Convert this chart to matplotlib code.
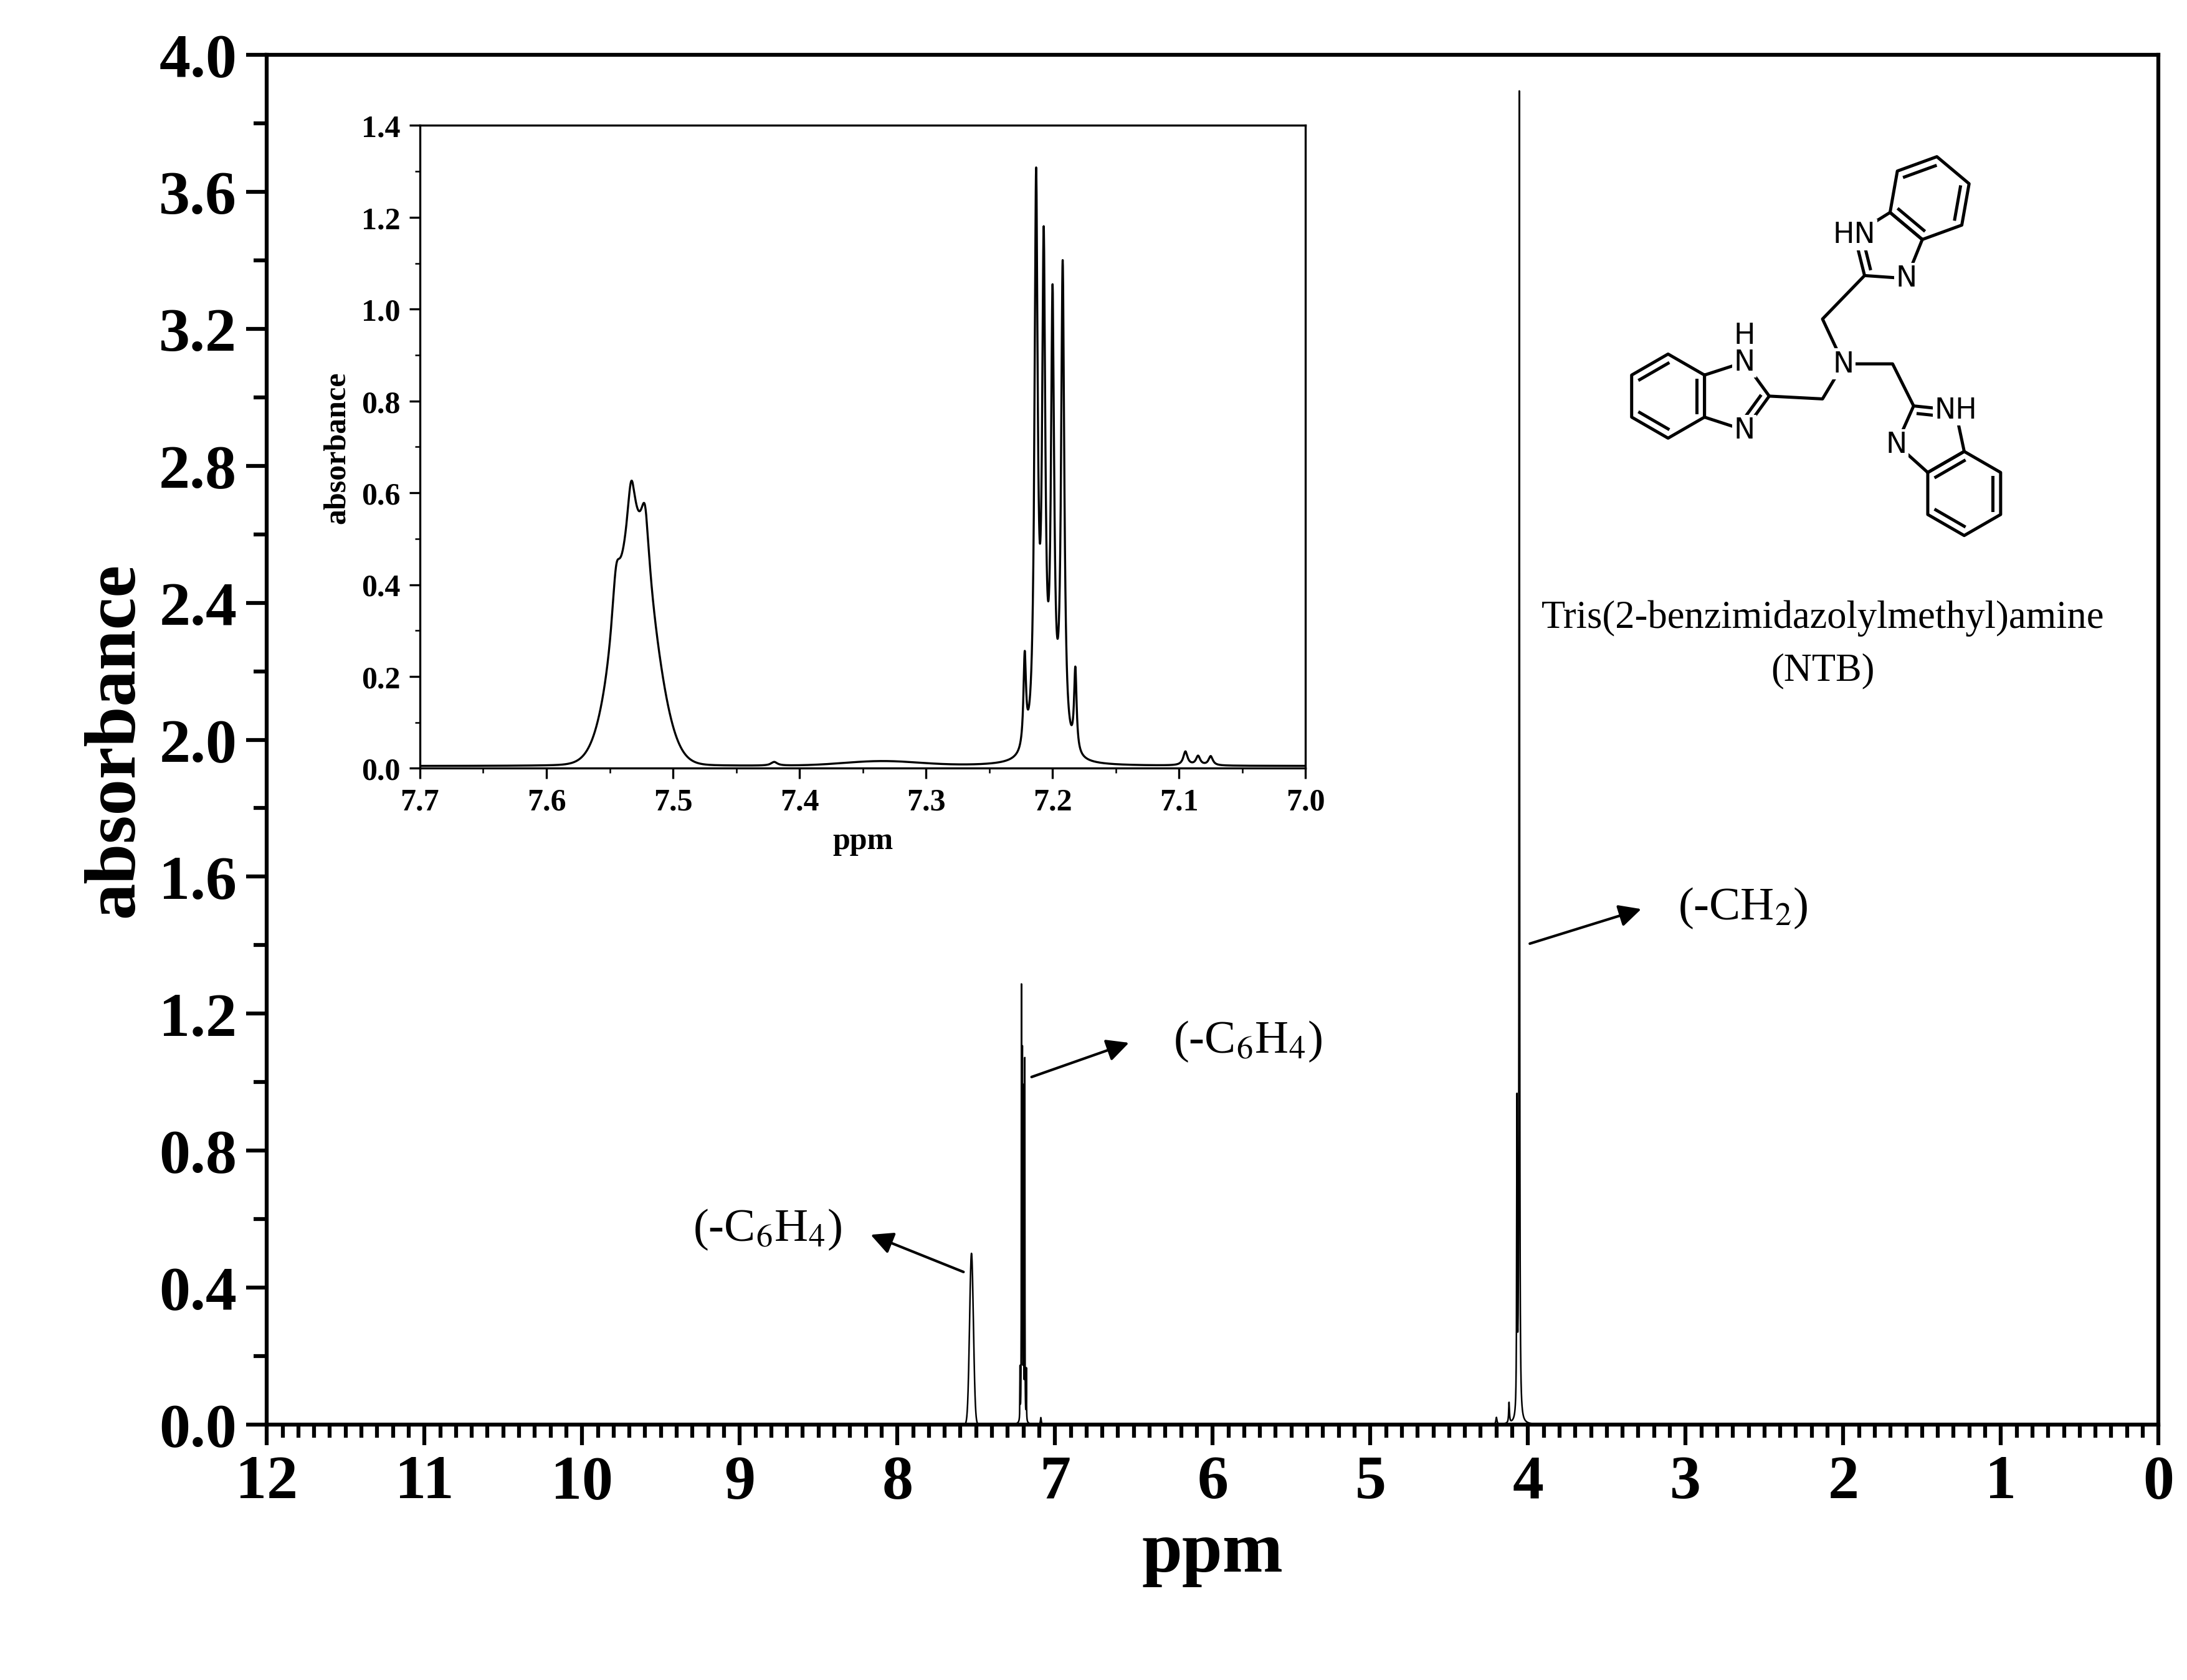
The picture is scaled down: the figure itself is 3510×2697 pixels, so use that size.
import numpy as np
import matplotlib
matplotlib.use("Agg")
import matplotlib.pyplot as plt
from matplotlib.ticker import MultipleLocator

plt.rcParams['font.family'] = ['Liberation Serif', 'DejaVu Serif']
plt.rcParams['mathtext.fontset'] = 'stix'

# peak list: position (ppm), height, half-width
main_pos = [7.53, 7.222, 7.213, 7.207, 7.200, 7.192, 7.182, 7.09, 4.20, 4.12, 4.07, 4.055]
main_h = [0.50, 0.15, 1.25, 1.05, 0.95, 1.05, 0.15, 0.02, 0.02, 0.06, 0.9, 3.88]
main_w = [0.012, 0.001, 0.001, 0.001, 0.001, 0.001, 0.001, 0.003, 0.004, 0.003, 0.002, 0.002]

ins_pos = [7.545, 7.533, 7.522, 7.53, 7.222, 7.213, 7.207, 7.200, 7.192, 7.182, 7.335, 7.42, 7.095, 7.085, 7.075]
ins_h = [0.12, 0.14, 0.14, 0.46, 0.20, 1.22, 1.05, 0.95, 1.05, 0.18, 0.01, 0.008, 0.03, 0.02, 0.02]
ins_w = [0.004, 0.004, 0.004, 0.016, 0.0012, 0.0015, 0.0015, 0.0015, 0.0015, 0.0012, 0.03, 0.003, 0.002, 0.002, 0.002]


def spectrum(x, pos, h, w):
    y = np.zeros_like(x)
    for p, a, g in zip(pos, h, w):
        if g >= 0.01:
            y += a * np.exp(-0.5 * ((x - p) / g)**2)
        else:
            y += a * g**2 / ((x - p)**2 + g**2)
    return y


fig = plt.figure(figsize=(11.7, 8.993), dpi=300)
ax = fig.add_axes([0.122, 0.152, 0.865, 0.815])
x = np.linspace(0, 12, 120000)
ax.plot(x, spectrum(x, main_pos, main_h, main_w), color='black', lw=0.6)
ax.set_xlim(12, 0)
ax.set_ylim(0, 4.0)
ax.xaxis.set_major_locator(MultipleLocator(1))
ax.xaxis.set_minor_locator(MultipleLocator(0.1))
ax.yaxis.set_minor_locator(MultipleLocator(0.2))
ax.set_yticks(np.arange(0, 4.01, 0.4))
ax.set_yticklabels([f"{v:.1f}" for v in np.arange(0, 4.01, 0.4)])
ax.tick_params(which='both', direction='out', width=1.5)
ax.tick_params(which='major', length=8, labelsize=24)
ax.tick_params(which='minor', length=5)
for lab in ax.get_xticklabels() + ax.get_yticklabels():
    lab.set_fontweight('bold')
for s in ax.spines.values():
    s.set_linewidth(1.5)
ax.set_xlabel('ppm', fontsize=28, fontweight='bold')
ax.set_ylabel('absorbance', fontsize=28, fontweight='bold')

ap = dict(arrowstyle='-|>', color='black', lw=1, mutation_scale=18)
ax.annotate('', xy=(8.2, 0.56), xytext=(7.55, 0.44), arrowprops=ap)
ax.text(8.35, 0.57, '(-C$_6$H$_4$)', fontsize=18, va='center', ha='right')
ax.annotate('', xy=(6.5, 1.12), xytext=(7.18, 1.01), arrowprops=ap)
ax.text(6.25, 1.12, '(-C$_6$H$_4$)', fontsize=18, va='center')
ax.annotate('', xy=(3.25, 1.51), xytext=(4.02, 1.40), arrowprops=ap)
ax.text(3.05, 1.51, '(-CH$_2$)', fontsize=18, va='center')
ax.text(2.13, 2.28, 'Tris(2-benzimidazolylmethyl)amine\n(NTB)', fontsize=15,
        ha='center', va='center', linespacing=1.6)

# inset
ins = fig.add_axes([0.192, 0.5425, 0.405, 0.3825])
xi = np.linspace(7.0, 7.7, 20000)
ins.plot(xi, spectrum(xi, ins_pos, ins_h, ins_w) + 0.005, color='black', lw=0.8)
ins.set_xlim(7.7, 7.0)
ins.set_ylim(0, 1.4)
ins.xaxis.set_major_locator(MultipleLocator(0.1))
ins.xaxis.set_minor_locator(MultipleLocator(0.05))
ins.yaxis.set_major_locator(MultipleLocator(0.2))
ins.yaxis.set_minor_locator(MultipleLocator(0.1))
ins.tick_params(which='both', direction='out', labelsize=12)
ins.tick_params(which='major', length=4)
ins.tick_params(which='minor', length=2)
for lab in ins.get_xticklabels() + ins.get_yticklabels():
    lab.set_fontweight('bold')
ins.set_xlabel('ppm', fontsize=12, fontweight='bold')
ins.set_ylabel('absorbance', fontsize=12, fontweight='bold')

# molecule sketch (pixel-like coordinates of the reference, y down)
mol = fig.add_axes([1130 / 1560, 1 - 400 / 1199, 320 / 1560, 320 / 1199])
mol.set_xlim(1130, 1450)
mol.set_ylim(400, 80)
mol.axis('off')
b = 30.0


def label(px, py, s):
    mol.text(px, py, s, fontsize=11, ha='center', va='center', family='DejaVu Sans',
             bbox=dict(fc='white', ec='none', pad=0.5))


def unit(c2, ang, labels):
    r_in = 0.688 * b
    R = 0.851 * b
    pent = [(-r_in + R * np.cos(np.radians(a)), R * np.sin(np.radians(a))) for a in (36, 108, 180, 252, 324)]
    hx = b * np.sqrt(3) / 2
    hexa = [(hx + b * np.cos(np.radians(a)), b * np.sin(np.radians(a))) for a in (150, 90, 30, 330, 270, 210)]
    c = np.cos(np.radians(ang)); s = np.sin(np.radians(ang))
    ox, oy = pent[2]

    def tr(p):
        px, py = p[0] - ox, p[1] - oy
        return (c2[0] + px * c - py * s, c2[1] + px * s + py * c)
    P = [tr(p) for p in pent]
    H = [tr(p) for p in hexa]
    for pts in (P, H):
        xs = [p[0] for p in pts] + [pts[0][0]]
        ys = [p[1] for p in pts] + [pts[0][1]]
        mol.plot(xs, ys, color='black', lw=1.2)
    cx = np.mean([p[0] for p in H]); cy = np.mean([p[1] for p in H])
    for i in (1, 3, 5):
        p, q = H[i], H[(i + 1) % 6]
        p2 = (cx + 0.78 * (p[0] - cx), cy + 0.78 * (p[1] - cy))
        q2 = (cx + 0.78 * (q[0] - cx), cy + 0.78 * (q[1] - cy))
        mol.plot([p2[0], q2[0]], [p2[1], q2[1]], color='black', lw=1.2)
    a_, b_ = P[2], P[3]
    mx = np.mean([p[0] for p in P]); my = np.mean([p[1] for p in P])
    a2 = (mx + 0.75 * (a_[0] - mx), my + 0.75 * (a_[1] - my))
    b2 = (mx + 0.75 * (b_[0] - mx), my + 0.75 * (b_[1] - my))
    mol.plot([a2[0], b2[0]], [a2[1], b2[1]], color='black', lw=1.2)
    label(P[1][0], P[1][1], labels[0])
    label(P[3][0], P[3][1], labels[1])
    return P


n = (1315, 260)
units = [((1330, 197), -50, ('N', 'HN')),
         ((1262, 283), 180, ('N', 'N')),
         ((1365, 290), 60, ('N', 'NH'))]
ch2 = [(1300, 228), (1300, 285), (1350, 260)]
for k, ((c2, ang, labs), m) in enumerate(zip(units, ch2)):
    mol.plot([n[0], m[0], c2[0]], [n[1], m[1], c2[1]], color='black', lw=1.2)
    P = unit(c2, ang, labs)
    if k == 1:
        top = P[1] if P[1][1] < P[3][1] else P[3]
        mol.text(top[0], top[1] - 19, 'H', fontsize=11, ha='center', va='center',
                 family='DejaVu Sans')
label(n[0], n[1], 'N')

fig.savefig('out.png', dpi=300)
